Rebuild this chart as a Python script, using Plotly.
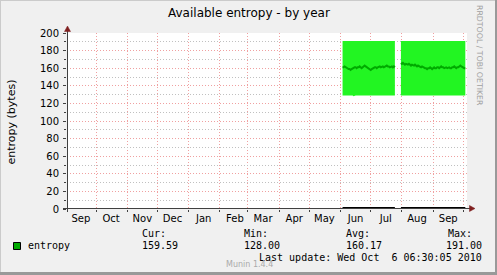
import plotly.graph_objects as go
import pandas as pd

# ---------------- data ----------------
month_labels = ["Sep", "Oct", "Nov", "Dec", "Jan", "Feb", "Mar", "Apr", "May", "Jun", "Jul", "Aug", "Sep"]
month_label_dates = ["2009-09-16", "2009-10-16", "2009-11-16", "2009-12-16", "2010-01-16", "2010-02-16",
                     "2010-03-16", "2010-04-16", "2010-05-16", "2010-06-16", "2010-07-16", "2010-08-16",
                     "2010-09-16"]
month_starts = ["2009-10-01", "2009-11-01", "2009-12-01", "2010-01-01", "2010-02-01", "2010-03-01",
                "2010-04-01", "2010-05-01", "2010-06-01", "2010-07-01", "2010-08-01", "2010-09-01",
                "2010-10-01"]
y_ticks = [0, 20, 40, 60, 80, 100, 120, 140, 160, 180, 200]
x_range = ["2009-09-02 04:00", "2010-10-04 16:00"]

seg1_start = "2010-06-03"
seg1_avg = [161, 161, 162, 161, 160, 160, 159,
            159, 158, 159, 160, 160, 161, 161,
            160, 161, 161, 162, 161, 160, 161,
            162, 163, 162, 161, 160, 159, 159,
            158, 159, 160, 160, 161, 161, 160,
            161, 162, 162, 161, 162, 162, 161,
            162, 163, 163, 162, 162, 161, 162,
            162, 161, 162, 161]
seg1_min = [129, 129, 129, 129, 129, 129, 129,
            129, 129, 129, 129, 128, 129, 129,
            129, 129, 129, 129, 129, 129, 129,
            129, 129, 129, 129, 129, 129, 129,
            129, 129, 129, 129, 129, 129, 129,
            129, 129, 129, 129, 129, 129, 129,
            129, 129, 129, 129, 129, 129, 129,
            129, 129, 129, 129]
seg1_max = [191, 191, 191, 191, 191, 191, 191,
            191, 191, 191, 191, 191, 191, 191,
            191, 191, 191, 191, 191, 191, 191,
            191, 191, 191, 191, 191, 191, 191,
            191, 191, 191, 191, 191, 191, 191,
            191, 191, 191, 191, 191, 191, 191,
            191, 191, 191, 191, 191, 191, 191,
            191, 191, 191, 191]
seg1_zero = [0] * len(seg1_avg)

seg2_start = "2010-07-31"
seg2_avg = [166, 165, 166, 165, 164, 165, 164,
            164, 165, 164, 163, 164, 163, 163,
            164, 163, 162, 163, 162, 162, 161,
            162, 161, 161, 160, 160, 159, 160,
            160, 161, 160, 159, 160, 161, 160,
            160, 161, 161, 160, 161, 162, 161,
            161, 160, 161, 161, 160, 161, 161,
            160, 160, 161, 161, 162, 161, 160,
            161, 161, 162, 163, 162, 161, 160,
            160, 160]
seg2_min = [129, 129, 129, 129, 129, 129, 129,
            129, 129, 129, 129, 129, 129, 129,
            129, 129, 129, 129, 129, 129, 129,
            129, 129, 129, 129, 129, 129, 129,
            129, 129, 129, 129, 129, 129, 129,
            129, 129, 129, 129, 129, 129, 129,
            129, 129, 129, 129, 129, 129, 129,
            129, 129, 129, 129, 129, 129, 129,
            129, 129, 129, 129, 129, 129, 129,
            129, 129]
seg2_max = [191, 191, 191, 191, 191, 191, 191,
            191, 191, 191, 191, 191, 191, 191,
            191, 191, 191, 191, 191, 191, 191,
            191, 191, 191, 191, 191, 191, 191,
            191, 191, 191, 191, 191, 191, 191,
            191, 191, 191, 191, 191, 191, 191,
            191, 191, 191, 191, 191, 191, 191,
            191, 191, 191, 191, 191, 191, 191,
            191, 191, 191, 191, 191, 191, 191,
            191, 191]
seg2_zero = [0] * len(seg2_avg)

legend_name = "entropy"
stat_names = ["Cur:", "Min:", "Avg:", "Max:"]
stat_values = ["159.59", "128.00", "160.17", "191.00"]
last_update = "Last update: Wed Oct \u00a06 06:30:05 2010"

# ---------------- style ----------------
W, H = 497, 275
L, R, T, B = 67, 30, 33, 66
PW, PH = W - L - R, H - T - B
BAND = "#22F522"
LINE = "#00AA00"
GRID_MAJ = "#F0A0A0"
GRID_MIN = "#C0C0C0"
AXIS = "#404040"
ARROW = "#7F1F1F"
SANS = "DejaVu Sans"
MONO = "DejaVu Sans Mono"


def px(x):
    return (x - L) / PW


def py(y):
    return (H - B - y) / PH


fig = go.Figure()

for start, mn, mx, avg, zero in [(seg1_start, seg1_min, seg1_max, seg1_avg, seg1_zero),
                                 (seg2_start, seg2_min, seg2_max, seg2_avg, seg2_zero)]:
    dates = pd.date_range(start, periods=len(avg), freq="D")
    fig.add_trace(go.Scatter(x=dates, y=mn, mode="lines", line=dict(width=0, color=BAND),
                             showlegend=False, hoverinfo="skip"))
    fig.add_trace(go.Scatter(x=dates, y=mx, mode="lines", line=dict(width=0, color=BAND),
                             fill="tonexty", fillcolor=BAND, showlegend=False, hoverinfo="skip"))
    fig.add_trace(go.Scatter(x=dates, y=avg, mode="lines", line=dict(width=2, color=LINE),
                             showlegend=False))
    fig.add_trace(go.Scatter(x=dates, y=zero, mode="lines", line=dict(width=4, color="#000000"),
                             showlegend=False))

fig.update_layout(
    width=W, height=H,
    margin=dict(l=L, r=R, t=T, b=B, pad=0, autoexpand=False),
    paper_bgcolor="#F0F0F0", plot_bgcolor="#FFFFFF",
    showlegend=False,
    xaxis=dict(type="date", range=x_range, tickmode="array", tickvals=month_label_dates,
               ticktext=month_labels, ticks="", showgrid=False, zeroline=False, showline=False,
               tickfont=dict(family=SANS, size=10, color="#000000"), ticklabelstandoff=2,
               minor=dict(tickmode="array", tickvals=month_starts, showgrid=True,
                          gridcolor=GRID_MAJ, griddash="1px,2px", gridwidth=1,
                          ticks="outside", ticklen=2, tickcolor=AXIS)),
    yaxis=dict(range=[0, 200], tickmode="array", tickvals=y_ticks, ticks="outside", ticklen=3,
               tickcolor=AXIS, showgrid=True, gridcolor=GRID_MAJ, griddash="1px,2px", gridwidth=1,
               zeroline=False, showline=False,
               tickfont=dict(family=SANS, size=10, color="#000000"), ticklabelstandoff=2,
               minor=dict(dtick=10, tick0=0, showgrid=True, gridcolor=GRID_MIN, griddash="1px,2px",
                          gridwidth=1, ticks="outside", ticklen=2, tickcolor=AXIS)),
)

shapes = []
# frame shading
shapes.append(dict(type="rect", xref="paper", yref="paper", x0=px(0), x1=px(W), y0=py(H), y1=py(H - 3),
                   fillcolor="#999999", line=dict(width=0), layer="above"))
shapes.append(dict(type="rect", xref="paper", yref="paper", x0=px(W - 2), x1=px(W), y0=py(H), y1=py(0),
                   fillcolor="#999999", line=dict(width=0), layer="above"))
shapes.append(dict(type="rect", xref="paper", yref="paper", x0=px(0), x1=px(W - 2), y0=py(1), y1=py(0),
                   fillcolor="#CBCBCB", line=dict(width=0), layer="above"))
shapes.append(dict(type="rect", xref="paper", yref="paper", x0=px(0), x1=px(1), y0=py(H - 3), y1=py(0),
                   fillcolor="#CBCBCB", line=dict(width=0), layer="above"))
# axes
shapes.append(dict(type="line", xref="paper", yref="paper", x0=px(67.5), x1=px(67.5), y0=py(212), y1=py(30),
                   line=dict(color=AXIS, width=1), layer="above"))
shapes.append(dict(type="line", xref="paper", yref="paper", x0=px(63), x1=px(470), y0=py(208.5), y1=py(208.5),
                   line=dict(color=AXIS, width=1), layer="above"))
# arrows
shapes.append(dict(type="path", xref="paper", yref="paper",
                   path=f"M {px(64.5)} {py(31.5)} L {px(70.5)} {py(31.5)} L {px(67.5)} {py(26)} Z",
                   fillcolor=ARROW, line=dict(color=ARROW, width=0.5), layer="above"))
shapes.append(dict(type="path", xref="paper", yref="paper",
                   path=f"M {px(469.5)} {py(205.5)} L {px(469.5)} {py(211.5)} L {px(475)} {py(208.5)} Z",
                   fillcolor=ARROW, line=dict(color=ARROW, width=0.5), layer="above"))
# legend swatch
shapes.append(dict(type="rect", xref="paper", yref="paper", x0=px(13.5), x1=px(20.5), y0=py(249.5), y1=py(242.5),
                   fillcolor=LINE, line=dict(color="#000000", width=1), layer="above"))
fig.update_layout(shapes=shapes)

ann = []


def add_text(text, x, y, xanchor="left", size=10, family=MONO, color="#000000", angle=0):
    ann.append(dict(text=text, x=px(x), y=py(y), xref="paper", yref="paper", xanchor=xanchor,
                    yanchor="middle", showarrow=False, textangle=angle,
                    font=dict(family=family, size=size, color=color)))


add_text("Available entropy - by year", 248.5, 13.5, xanchor="center", size=12, family=SANS)
add_text("entropy (bytes)", 11, 121.5, xanchor="center", size=11, family=SANS, angle=-90)
add_text("RRDTOOL / TOBI OETIKER", 480, 55, xanchor="center", size=7.8, family=SANS, color="#A0A0A0", angle=90)
add_text(legend_name, 26, 245.5)
stat_x = [140, 242, 344, 446]
for name, val, sx in zip(stat_names, stat_values, stat_x):
    add_text(name, sx, 233.5)
for val, sx in zip(stat_values[:3], stat_x[:3]):
    add_text(val, sx, 245.5)
add_text(stat_values[3], 484, 245.5, xanchor="right")
add_text(last_update, 484, 257.5, xanchor="right")
add_text("Munin 1.4.4", 224, 264, size=8, family=SANS, color="#AAAAAA")
fig.update_layout(annotations=ann)

fig.write_html("out.html")
